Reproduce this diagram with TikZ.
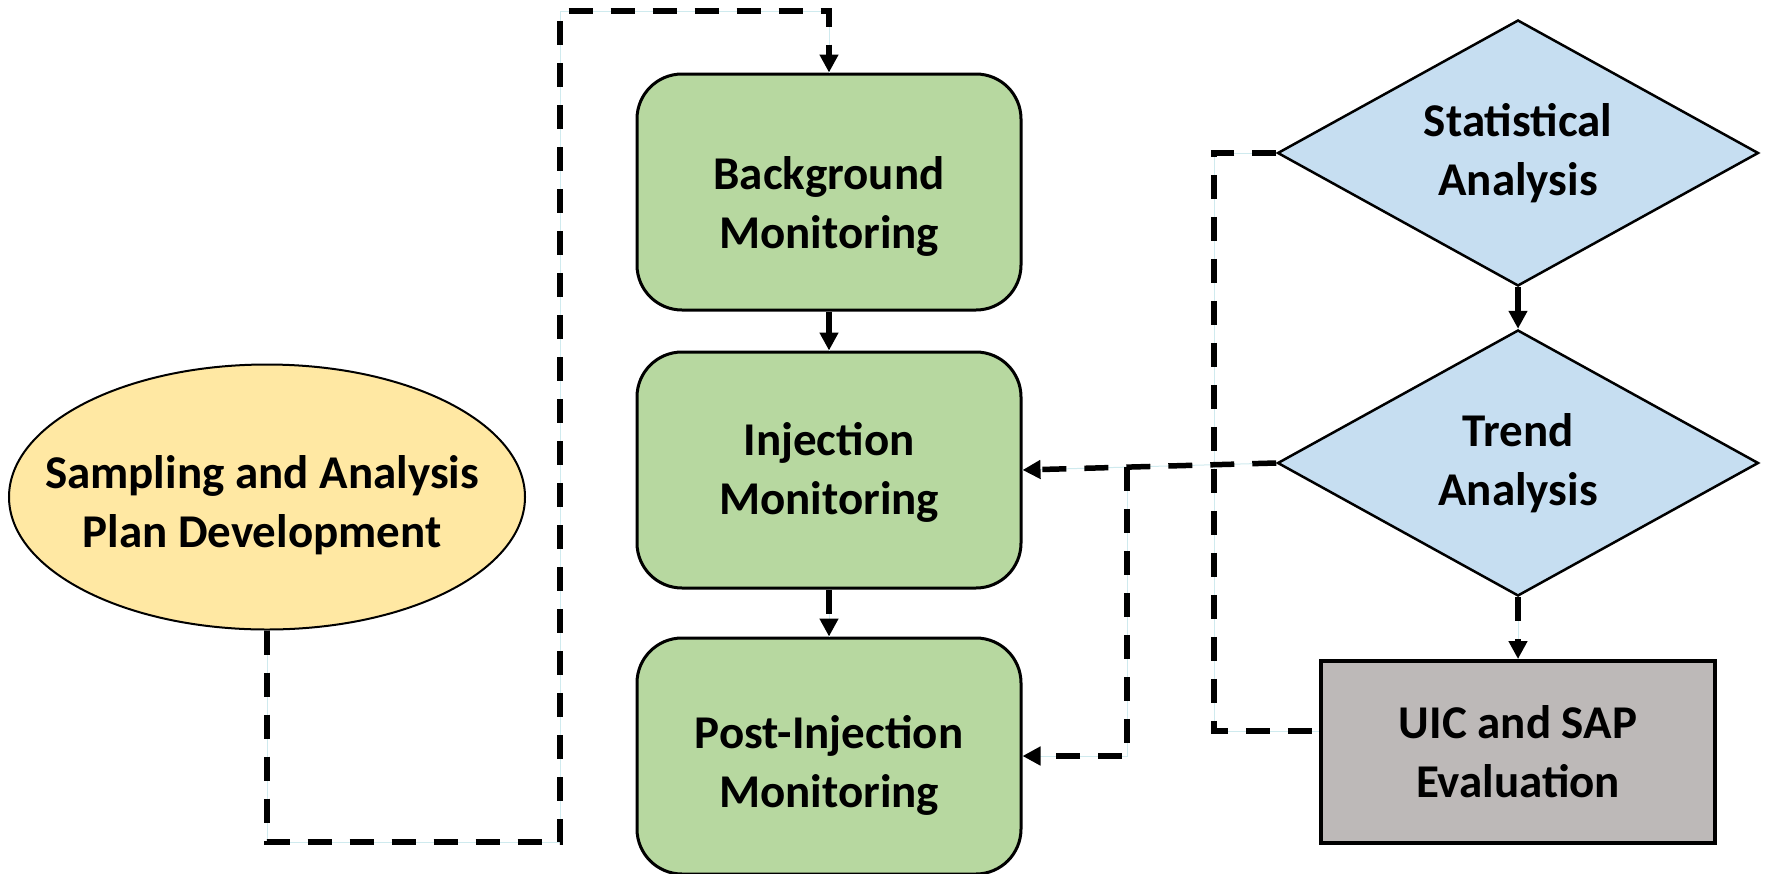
\documentclass[tikz,border=0pt]{standalone}
\usepackage{fontspec}
\setmainfont{Carlito}
\usetikzlibrary{arrows.meta,positioning,shapes.geometric,calc}
\definecolor{FGreen}{HTML}{B7D8A0}
\definecolor{FBlue}{HTML}{C6DEF1}
\definecolor{FYellow}{HTML}{FFE8A3}
\definecolor{FGray}{HTML}{BDB9B8}
\definecolor{FTrace}{HTML}{CFEAEE}

\begin{document}
\begin{tikzpicture}[x=1pt,y=-1pt,
    label font/.style={font=\fontsize{47}{59}\selectfont\bfseries, align=center},
    monbox/.style={draw=black, line width=3pt, fill=FGreen,
      rounded corners=45pt, minimum width=384pt, minimum height=236pt, inner sep=0pt},
    decision/.style={label font, diamond, aspect=1.8, draw=black, line width=2.5pt,
      fill=FBlue, minimum width=481pt, minimum height=266pt, inner sep=0pt},
    flow/.style={draw=black, line width=5.5pt, dash pattern=on 24pt off 18pt,
      preaction={draw=FTrace, line width=1pt, solid, -}},
    arrowed/.style={flow, -{Triangle[length=18pt 0 0,width=18pt 0 0]}}]
  \useasboundingbox (0,0) rectangle (1767,873);

  % planning and monitoring
  \node[ellipse, draw=black, line width=2pt, fill=FYellow,
        minimum width=516pt, minimum height=265pt, inner sep=0pt]
        (plan) at (267,497) {};
  \node[label font] (plantext) at ([xshift=-5pt,yshift=-8pt]plan.center)
        {Sampling and Analysis\\Plan Development};
  \node[monbox] (bg)   at (829,192) {};
  \node[monbox] (inj)  at (829,470) {};
  \node[monbox] (post) at (829,756) {};
  \node[label font] (bgtext)   at ([yshift=-14pt]bg.center)  {Background\\Monitoring};
  \node[label font] (injtext)  at ([yshift=-2pt]inj.center)  {Injection\\Monitoring};
  \node[label font] (posttext) at ([yshift=-9pt]post.center) {Post-Injection\\Monitoring};

  % analysis side
  \node[decision] (stat)  at (1518,153) {Statistical\\Analysis};
  \node[decision] (trend) at (1518,463) {Trend\\Analysis};
  \node[label font, draw=black, line width=4pt, fill=FGray,
        minimum width=394pt, minimum height=182pt, inner sep=0pt]
        (uic) at (1518,752) {UIC and SAP\\Evaluation};

  % connectors
  \coordinate (lowturn) at (560,842);
  \coordinate (topturn) at (560,11);
  \draw[arrowed] (plan.south) |- (lowturn) -- (topturn) -| (bg.north);
  \draw[arrowed] (bg.south) -- (inj.north);
  \draw[arrowed] (inj.south) -- (post.north);
  \draw[arrowed] (stat.south) -- (trend.north);
  \draw[arrowed] (trend.south) -- (uic.north);

  \draw[flow] (stat.west) -| ([xshift=-105pt,yshift=21pt]uic.west)
    -- ([yshift=21pt]uic.west);
  \draw[arrowed] (trend.west) -- (inj.east);
  \coordinate (split) at (1127,467);
  \draw[arrowed] (split) |- (post.east);
\end{tikzpicture}
\end{document}
